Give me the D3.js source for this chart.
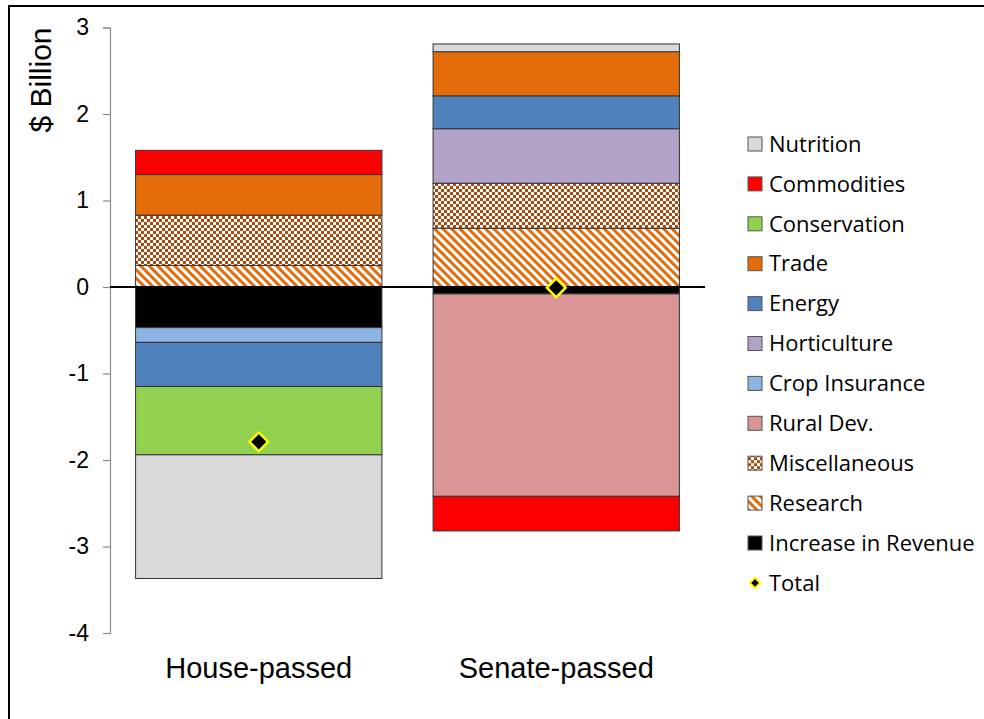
<!DOCTYPE html>
<html><head><meta charset="utf-8">
<script src="https://cdn.jsdelivr.net/npm/d3@7"></script>
<style>html,body{margin:0;padding:0;background:#fff;}svg{display:block;}</style>
</head><body>
<svg id="chart" width="984" height="719"></svg>
<script>
// ---- data ----
const categories = ["House-passed", "Senate-passed"];
// series in stacking order (first = nearest zero)
const seriesNames = ["Increase in Revenue", "Research", "Miscellaneous", "Rural Dev.", "Crop Insurance",
  "Horticulture", "Energy", "Trade", "Conservation", "Commodities", "Nutrition"];
const increaseInRevenue = [-0.47, -0.08];
const research          = [0.25, 0.68];
const miscellaneous     = [0.58, 0.52];
const ruralDev          = [0.00, -2.34];
const cropInsurance     = [-0.17, 0.00];
const horticulture      = [0.00, 0.63];
const energy            = [-0.51, 0.38];
const trade             = [0.47, 0.51];
const conservation      = [-0.79, 0.00];
const commodities       = [0.28, -0.40];
const nutrition         = [-1.43, 0.09];
const totals            = [-1.79, -0.01];
const yTicks = [-4, -3, -2, -1, 0, 1, 2, 3];
const yTickLabels = ["-4", "-3", "-2", "-1", "0", "1", "2", "3"];
const legendOrder = ["Nutrition", "Commodities", "Conservation", "Trade", "Energy", "Horticulture",
  "Crop Insurance", "Rural Dev.", "Miscellaneous", "Research", "Increase in Revenue"];

const seriesValues = {
  "Increase in Revenue": increaseInRevenue, "Research": research, "Miscellaneous": miscellaneous,
  "Rural Dev.": ruralDev, "Crop Insurance": cropInsurance, "Horticulture": horticulture,
  "Energy": energy, "Trade": trade, "Conservation": conservation, "Commodities": commodities,
  "Nutrition": nutrition
};
const colors = {
  "Nutrition": "#d9d9d9", "Commodities": "#ff0000", "Conservation": "#92d050", "Trade": "#e46c0a",
  "Energy": "#4f81bd", "Horticulture": "#b3a2c7", "Crop Insurance": "#8db4e2", "Rural Dev.": "#d99694",
  "Miscellaneous": "url(#checker)", "Research": "url(#stripes)", "Increase in Revenue": "#000000"
};

const rows = categories.map((c, i) => {
  const r = { cat: c };
  seriesNames.forEach(s => r[s] = seriesValues[s][i]);
  return r;
});

const svg = d3.select("#chart");
const defs = svg.append("defs");
const chk = defs.append("pattern").attr("id", "checker").attr("patternUnits", "userSpaceOnUse")
  .attr("width", 6).attr("height", 6);
chk.append("rect").attr("width", 6).attr("height", 6).attr("fill", "#fff");
chk.append("rect").attr("width", 3).attr("height", 3).attr("fill", "#a84b0c");
chk.append("rect").attr("x", 3).attr("y", 3).attr("width", 3).attr("height", 3).attr("fill", "#a84b0c");
const str = defs.append("pattern").attr("id", "stripes").attr("patternUnits", "userSpaceOnUse")
  .attr("width", 6).attr("height", 10).attr("patternTransform", "rotate(-45)");
str.append("rect").attr("width", 6).attr("height", 10).attr("fill", "#fff");
str.append("rect").attr("width", 3).attr("height", 10).attr("fill", "#e46c0a");

// border
svg.append("rect").attr("x", 9).attr("y", 6).attr("width", 1200).attr("height", 1200)
  .attr("fill", "none").attr("stroke", "#000").attr("stroke-width", 2);

const y = d3.scaleLinear().domain([-4, 3]).range([633, 27.5]);
const x = d3.scaleBand().domain(categories).range([110, 705]).paddingInner(0.172).paddingOuter(0.086);

const stack = d3.stack().keys(seriesNames).offset(d3.stackOffsetDiverging);
const layers = stack(rows);

// axis
const yAxis = svg.append("g").attr("transform", "translate(110,0)")
  .call(d3.axisLeft(y).tickValues(yTicks).tickFormat((d, i) => yTickLabels[i])
    .tickSize(7).tickSizeOuter(7).tickPadding(14));
yAxis.select(".domain").attr("stroke", "#8c8c8c").attr("stroke-width", 1.2);
yAxis.selectAll(".tick line").attr("stroke", "#8c8c8c").attr("stroke-width", 1.2);
yAxis.selectAll(".tick text").attr("font-family", "'Liberation Sans', Arial, sans-serif")
  .attr("font-size", 23).attr("fill", "#000");

// bars
const gBars = svg.append("g");
layers.forEach(layer => {
  gBars.append("g").selectAll("rect").data(layer.filter(d => d[1] - d[0] !== 0)).join("rect")
    .attr("x", d => x(d.data.cat))
    .attr("width", x.bandwidth())
    .attr("y", d => y(d[1]))
    .attr("height", d => y(d[0]) - y(d[1]))
    .attr("fill", colors[layer.key])
    .attr("stroke", "#333")
    .attr("stroke-width", 1);
});

// zero line
svg.append("line").attr("x1", 110).attr("x2", 705).attr("y1", y(0)).attr("y2", y(0))
  .attr("stroke", "#000").attr("stroke-width", 2);

// totals
const diamond = d3.symbol().type(d3.symbolSquare).size(175);
svg.append("g").selectAll("path").data(categories).join("path")
  .attr("d", diamond)
  .attr("transform", (c, i) => `translate(${x(c) + x.bandwidth() / 2},${y(totals[i])}) rotate(45)`)
  .attr("fill", "#000").attr("stroke", "#ffff00").attr("stroke-width", 2.5);

// category labels
svg.append("g").selectAll("text").data(categories).join("text")
  .attr("x", c => x(c) + x.bandwidth() / 2).attr("y", 678)
  .attr("text-anchor", "middle")
  .attr("font-family", "'Liberation Sans', Arial, sans-serif").attr("font-size", 29)
  .attr("fill", "#000").text(c => c);

// y title
svg.append("text").attr("transform", "translate(51,80) rotate(-90)")
  .attr("text-anchor", "middle")
  .attr("font-family", "'Liberation Sans', Arial, sans-serif").attr("font-size", 30)
  .attr("fill", "#000").text("$ Billion");

// legend
const legendItems = legendOrder.concat(["Total"]);
const lg = svg.append("g");
const item = lg.selectAll("g").data(legendItems).join("g")
  .attr("transform", (d, i) => `translate(748,${144 + i * 39.9})`);
item.filter(d => d !== "Total").append("rect")
  .attr("x", 0).attr("y", -7).attr("width", 14).attr("height", 14)
  .attr("fill", d => colors[d]).attr("stroke", "#555").attr("stroke-width", 1);
item.filter(d => d === "Total").append("path")
  .attr("d", d3.symbol().type(d3.symbolSquare).size(55))
  .attr("transform", "translate(7,0) rotate(45)")
  .attr("fill", "#000").attr("stroke", "#ffff00").attr("stroke-width", 2);
item.append("text").attr("x", 21).attr("y", 0).attr("dy", "0.35em")
  .attr("font-family", "'Open Sans', sans-serif").attr("font-size", 22)
  .attr("fill", "#000").text(d => d);
</script>
</body></html>
